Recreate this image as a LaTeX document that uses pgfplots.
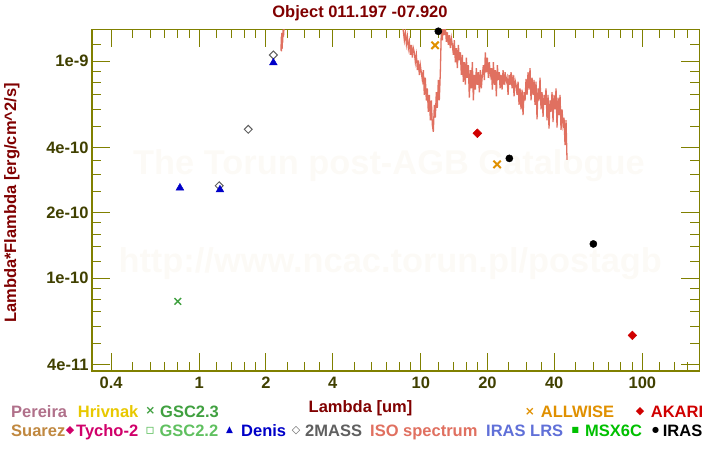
\documentclass[border=0pt]{standalone}
\usepackage{fontspec}
\setmainfont{Liberation Sans}
\newfontfamily\sym{DejaVu Sans}
\usepackage{pgfplots}
\pgfplotsset{compat=1.18}
\definecolor{axcol}{HTML}{808000}
\definecolor{ticklab}{HTML}{404000}
\definecolor{titcol}{HTML}{800000}
\definecolor{wm}{HTML}{FCFAF6}
\definecolor{iso}{HTML}{E07060}
\definecolor{gsc23}{HTML}{40A040}
\definecolor{gsc22}{HTML}{60C060}
\definecolor{denis}{HTML}{0000C8}
\definecolor{twomass}{HTML}{606060}
\definecolor{allw}{HTML}{E09000}
\definecolor{akari}{HTML}{D00000}
\definecolor{pereira}{HTML}{B0708A}
\definecolor{hrivnak}{HTML}{E8C800}
\definecolor{suarez}{HTML}{C08840}
\definecolor{tycho}{HTML}{D0006A}
\definecolor{lrs}{HTML}{6070D8}
\definecolor{msx}{HTML}{00C000}
\newcommand{\f}{\fontsize{16.5bp}{19bp}\selectfont\bfseries}
\begin{document}
\begin{tikzpicture}[x=1bp,y=1bp]
\path[use as bounding box] (0,0) rectangle (720,450);
% watermarks
\node[anchor=base west, text=wm, font=\fontsize{34.4bp}{40bp}\selectfont\bfseries, inner sep=0] at (133,275) {The Torun post-AGB Catalogue};
\node[anchor=base west, text=wm, font=\fontsize{34.4bp}{40bp}\selectfont\bfseries, inner sep=0] at (118.3,177) {http://www.ncac.torun.pl/postagb};
\begin{axis}[at={(92bp,79bp)}, anchor=south west, scale only axis,
  width=607.3bp, height=341.7bp,
  xmode=log, ymode=log,
  xmin=0.328, xmax=180.8, ymin=3.74e-11, ymax=1.404e-9,
  xtick={0.4,1,2,4,10,20,40,100}, xticklabels={0.4,1,2,4,10,20,40,100},
  minor xtick={0.5,0.6,0.7,0.8,0.9,1.2,1.4,1.6,1.8,2.5,3,3.5,5,6,7,8,9,12,14,16,18,25,30,35,50,60,70,80,90,120,140,160},
  ytick={4e-11,1e-10,2e-10,4e-10,1e-9}, yticklabels={4e-11,1e-10,2e-10,4e-10,1e-9},
  minor ytick={5e-11,6e-11,7e-11,8e-11,9e-11,1.2e-10,1.4e-10,1.6e-10,1.8e-10,2.5e-10,3e-10,3.5e-10,5e-10,6e-10,7e-10,8e-10,9e-10,1.2e-9},
  tick align=inside, major tick length=18bp, minor tick length=9bp,
  axis line style={draw=axcol, line width=1.3bp},
  tick style={draw=axcol, line width=1bp},
  ticklabel style={font=\f, text=ticklab},
  xticklabel style={inner sep=0pt, yshift=-5.5bp},
  yticklabel style={inner sep=0pt, xshift=-3.3bp},
  clip=true,
]
\addplot[color=iso, line width=1.3bp, mark=none] coordinates {
(2.340,1.12e-9) (2.345,1.30e-9) (2.350,1.11e-9) (2.360,1.35e-9) (2.365,1.14e-9)
(2.375,1.32e-9) (2.38,1.22e-9) (2.39,1.40e-9) (2.40,1.30e-9) (2.42,1.50e-9)
(2.45,1.7e-9) (2.6,2.2e-9) (3,3e-9) (4,3.5e-9) (6,3e-9) (8,1.8e-9) (8.2,1.5e-9)
(8.34,13.8e-10) (8.43,12.5e-10) (8.52,13.6e-10) (8.61,12.0e-10) (8.70,13.0e-10)
(8.79,11.5e-10) (8.88,12.3e-10) (8.97,10.7e-10) (9.06,11.9e-10) (9.16,10.4e-10)
(9.25,11.5e-10) (9.35,11.0e-10) (9.45,9.9e-10) (9.55,10.7e-10) (9.65,9.1e-10)
(9.75,10.1e-10) (9.85,8.65e-10) (9.95,9.6e-10) (10.05,8.9e-10) (10.16,8.2e-10)
(10.27,9.1e-10) (10.37,7.0e-10) (10.48,8.4e-10) (10.59,6.6e-10) (10.70,7.5e-10)
(10.81,5.85e-10) (10.93,7.0e-10) (11.04,5.35e-10) (11.16,6.6e-10) (11.27,5.1e-10)
(11.39,4.73e-10) (11.51,6.3e-10) (11.63,5.5e-10) (11.75,7.2e-10) (11.87,6.1e-10)
(12.00,8.2e-10) (12.12,6.6e-10) (12.25,8.9e-10) (12.38,14.0e-10) (12.51,12.5e-10)
(12.64,15e-10) (12.77,13.2e-10) (12.90,14.5e-10) (13.04,12.3e-10) (13.18,13.6e-10)
(13.31,11.9e-10) (13.45,13.2e-10) (13.59,11.5e-10) (13.74,12.8e-10) (13.88,11.9e-10)
(14.03,10.7e-10) (14.17,12.5e-10) (14.32,9.9e-10) (14.47,11.5e-10) (14.62,9.3e-10)
(14.78,11.9e-10) (14.93,10.1e-10) (15.09,11.0e-10) (15.24,8.65e-10) (15.40,10.7e-10)
(15.56,8.05e-10) (15.73,9.9e-10) (15.89,7.8e-10) (16.06,10.4e-10) (16.22,8.4e-10)
(16.39,9.6e-10) (16.56,6.8e-10) (16.74,9.1e-10) (16.91,7.5e-10) (17.09,9.9e-10)
(17.27,6.6e-10) (17.45,8.65e-10) (17.63,7.4e-10) (17.81,9.3e-10) (18.00,7.8e-10)
(18.19,8.9e-10) (18.38,7.2e-10) (18.57,9.1e-10) (18.76,7.5e-10) (18.96,8.65e-10)
(19.16,9.6e-10) (19.36,8.2e-10) (19.56,11.0e-10) (19.76,8.9e-10) (19.97,10.4e-10)
(20.18,8.4e-10) (20.39,9.9e-10) (20.60,8.65e-10) (20.82,9.3e-10) (21.04,7.4e-10)
(21.26,9.9e-10) (21.48,7.8e-10) (21.70,9.1e-10) (21.93,6.9e-10) (22.16,9.6e-10)
(22.39,8.2e-10) (22.62,8.9e-10) (22.79,7.5e-10) (23.03,8.65e-10) (23.27,7.4e-10)
(23.51,9.1e-10) (23.76,7.8e-10) (24.01,8.9e-10) (24.26,8.05e-10) (24.51,8.4e-10)
(24.77,7.0e-10) (25.03,8.65e-10) (25.29,7.8e-10) (25.55,8.9e-10) (25.82,7.5e-10)
(26.09,8.65e-10) (26.36,6.9e-10) (26.63,8.2e-10) (26.91,7.8e-10) (27.19,7.0e-10)
(27.48,8.05e-10) (27.76,6.3e-10) (28.05,7.5e-10) (28.34,6.0e-10) (28.64,7.4e-10)
(28.94,5.65e-10) (29.24,7.2e-10) (29.55,6.6e-10) (29.86,8.3e-10) (30.17,7.0e-10)
(30.48,8.9e-10) (30.80,7.4e-10) (31.12,9.3e-10) (31.45,6.6e-10) (31.78,8.4e-10)
(32.11,7.0e-10) (32.44,8.2e-10) (32.78,6.3e-10) (33.12,8.05e-10) (33.47,5.4e-10)
(33.82,7.5e-10) (34.17,6.6e-10) (34.53,8.4e-10) (34.89,6.0e-10) (35.26,7.2e-10)
(35.63,5.55e-10) (36.00,7.0e-10) (36.37,6.3e-10) (36.75,7.5e-10) (37.13,5.35e-10)
(37.52,7.0e-10) (37.91,4.9e-10) (38.31,6.6e-10) (38.71,5.85e-10) (39.12,7.2e-10)
(39.53,5.25e-10) (39.94,7.0e-10) (40.36,6.0e-10) (40.78,7.5e-10) (41.20,4.95e-10)
(41.63,6.8e-10) (42.07,5.65e-10) (42.51,7.0e-10) (42.95,4.83e-10) (43.40,6.0e-10)
(43.85,5.1e-10) (44.31,5.5e-10) (44.77,4.11e-10) (45.24,5.35e-10) (45.71,3.51e-10)
};
% GSC2.3
\addplot[only marks, mark=x, mark size=4.7bp, color=gsc23, mark options={line width=1.5bp}] coordinates {(0.8,7.83e-11)};
% 2MASS
\addplot[only marks, mark=square, mark size=2.8bp, mark options={rotate=45, draw=twomass, line width=1bp}] coordinates {(1.23,2.67e-10) (1.664,4.86e-10) (2.16,1.069e-9)};
% Denis
\addplot[only marks, mark=triangle*, mark size=4.5bp, color=denis] coordinates {(0.818,2.61e-10) (1.24,2.56e-10) (2.16,0.985e-9)};
% ALLWISE
\addplot[only marks, mark=x, mark size=5.2bp, color=allw, mark options={line width=2bp}] coordinates {(11.6,1.185e-9) (22.1,3.35e-10)};
% AKARI
\addplot[only marks, mark=square*, mark size=3.1bp, color=akari, mark options={rotate=45}] coordinates {(18.0,4.66e-10) (90.2,5.46e-11)};
% IRAS
\addplot[only marks, mark=*, mark size=3.6bp, color=black] coordinates {(12.0,1.375e-9) (25.1,3.57e-10) (60.1,1.44e-10)};
\end{axis}
% title and axis labels
\node[anchor=base, text=titcol, font=\f, inner sep=0] at (360,432.7) {Object 011.197 -07.920};
\node[anchor=base, text=titcol, font=\f, inner sep=0] at (360.5,37.7) {Lambda [um]};
\node[anchor=base, rotate=90, text=titcol, font=\f, inner sep=0] at (16,247) {Lambda*Flambda [erg/cm\textasciicircum 2/s]};
% legend row 1
\node[anchor=base west, text=pereira, font=\f, inner sep=0] at (11,32.7) {Pereira};
\node[anchor=base west, text=hrivnak, font=\f, inner sep=0] at (77.7,32.7) {Hrivnak};
\node[text=gsc23, font=\sym\bfseries\fontsize{12bp}{12bp}\selectfont, inner sep=0] at (150.5,39.5) {×};
\node[anchor=base west, text=gsc23, font=\f, inner sep=0] at (160,32.7) {GSC2.3};
\node[text=allw, font=\sym\bfseries\fontsize{12bp}{12bp}\selectfont, inner sep=0] at (530,38.3) {×};
\node[anchor=base west, text=allw, font=\f, inner sep=0] at (540.7,32.7) {ALLWISE};
\node[text=akari, font=\sym\fontsize{11bp}{11bp}\selectfont, inner sep=0] at (640,38) {◆};
\node[anchor=base west, text=akari, font=\f, inner sep=0] at (650.7,32.7) {AKARI};
% legend row 2
\node[anchor=base west, text=suarez, font=\f, inner sep=0] at (11,13.3) {Suarez};
\node[text=tycho, font=\sym\fontsize{11bp}{11bp}\selectfont, inner sep=0] at (70,19.2) {◆};
\node[anchor=base west, text=tycho, font=\f, inner sep=0] at (76,13.3) {Tycho-2};
\node[text=gsc22, font=\sym\bfseries\fontsize{14bp}{14bp}\selectfont, inner sep=0] at (150.2,19.2) {▫};
\node[anchor=base west, text=gsc22, font=\f, inner sep=0] at (159.3,13.3) {GSC2.2};
\node[text=denis, font=\sym\fontsize{9bp}{9bp}\selectfont, inner sep=0] at (229.7,20) {▲};
\node[anchor=base west, text=denis, font=\f, inner sep=0] at (241,13.3) {Denis};
\node[text=twomass, font=\sym\fontsize{11bp}{11bp}\selectfont, inner sep=0] at (296,19.2) {◇};
\node[anchor=base west, text=twomass, font=\f, inner sep=0] at (305,13.3) {2MASS};
\node[anchor=base west, text=iso, font=\f, inner sep=0] at (370,13.3) {ISO spectrum};
\node[anchor=base west, text=lrs, font=\f, inner sep=0] at (486,13.3) {IRAS LRS};
\node[text=msx, font=\sym\fontsize{8bp}{8bp}\selectfont, inner sep=0] at (575.3,20) {■};
\node[anchor=base west, text=msx, font=\f, inner sep=0] at (585,13.3) {MSX6C};
\node[text=black, font=\sym\fontsize{8bp}{8bp}\selectfont, inner sep=0] at (655.7,19.3) {●};
\node[anchor=base west, text=black, font=\f, inner sep=0] at (662.7,13.3) {IRAS};
\end{tikzpicture}
\end{document}
